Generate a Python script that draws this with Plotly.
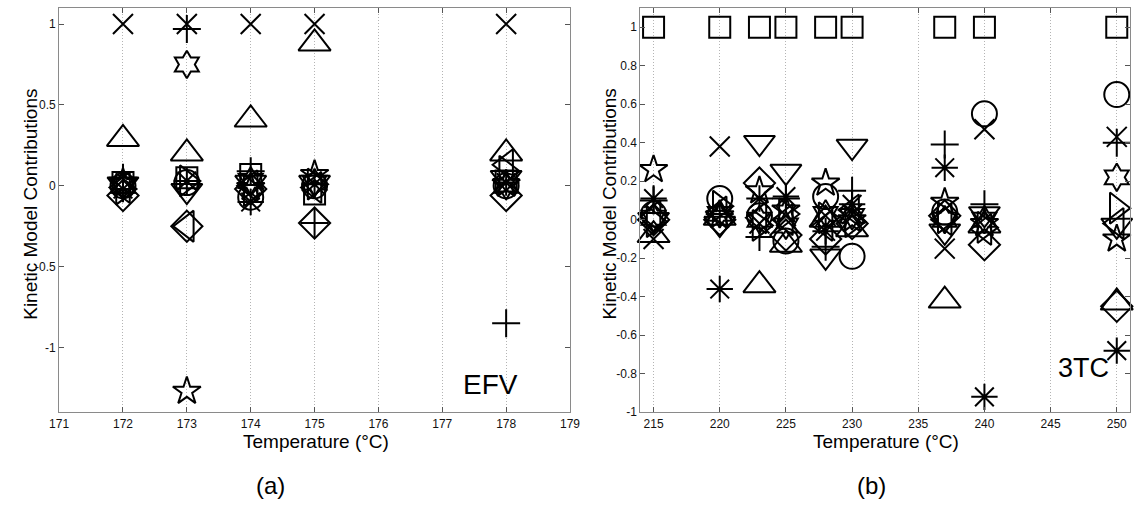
import plotly.graph_objects as go

# ---------------- data ----------------
temps_efv = [172, 173, 174, 175, 178]
efv_circle    = [0.00, 0.02, -0.07, 0.00, 0.00]
efv_x         = [1.00, 1.00, 1.00, 1.00, 1.00]
efv_cross     = [0.05, 0.97, 0.09, -0.23, -0.85]
efv_asterisk  = [-0.02, 0.03, -0.10, 0.01, 0.02]
efv_square    = [0.02, 0.05, 0.07, -0.05, 0.03]
efv_diamond   = [-0.06, -0.25, -0.02, -0.23, -0.06]
efv_tri_down  = [0.01, -0.03, 0.02, 0.02, 0.05]
efv_tri_up    = [0.29, 0.20, 0.41, 0.88, 0.20]
efv_tri_left  = [-0.01, -0.25, 0.00, -0.01, 0.13]
efv_tri_right = [-0.02, 0.03, -0.03, 0.01, 0.09]
efv_star      = [0.02, -1.27, -0.01, 0.07, 0.01]
efv_hexagram  = [0.00, 0.75, 0.03, 0.02, 0.00]

temps_3tc = [215, 220, 223, 225, 228, 230, 237, 240, 250]
tc_circle    = [0.03, 0.11, 0.02, -0.11, 0.12, -0.19, 0.04, 0.55, 0.65]
tc_x         = [-0.10, 0.38, -0.02, 0.02, 0.02, 0.03, -0.15, 0.47, 0.43]
tc_cross     = [0.10, 0.03, -0.09, 0.11, -0.14, 0.15, 0.39, 0.08, 0.40]
tc_asterisk  = [0.11, -0.36, 0.11, 0.12, -0.06, 0.08, 0.27, -0.92, -0.68]
tc_square    = [1.00, 1.00, 1.00, 1.00, 1.00, 1.00, 1.00, 1.00, 1.00]
tc_diamond   = [0.00, 0.00, 0.19, -0.08, -0.10, -0.02, 0.02, -0.13, -0.45]
tc_tri_down  = [0.00, -0.02, 0.40, 0.25, -0.19, 0.38, -0.06, 0.03, -0.03]
tc_tri_up    = [-0.08, 0.01, -0.34, -0.13, 0.00, -0.05, -0.42, -0.03, -0.43]
tc_tri_left  = [0.02, 0.04, 0.01, 0.00, -0.03, 0.05, 0.00, -0.05, -0.02]
tc_tri_right = [-0.01, 0.07, -0.03, 0.03, 0.01, -0.01, 0.01, -0.04, 0.06]
tc_star      = [0.26, 0.02, 0.15, 0.05, 0.19, 0.00, 0.09, -0.02, -0.10]
tc_hexagram  = [0.01, 0.03, 0.00, -0.03, 0.03, 0.02, 0.00, 0.00, 0.22]

efv_xticks = [171, 172, 173, 174, 175, 176, 177, 178, 179]
efv_yticks = [-1, -0.5, 0, 0.5, 1]
efv_yticklabels = ["-1", "-0.5", "0", "0.5", "1"]
tc_xticks = [215, 220, 225, 230, 235, 240, 245, 250]
tc_yticks = [-1, -0.8, -0.6, -0.4, -0.2, 0, 0.2, 0.4, 0.6, 0.8, 1]
tc_yticklabels = ["-1", "-0.8", "-0.6", "-0.4", "-0.2", "0", "0.2", "0.4", "0.6", "0.8", "1"]

# ---------------- styles ----------------
W, H = 1140, 510
markers = [
    ("circle-open", 25),
    ("x-thin-open", 20),
    ("cross-thin-open", 20),
    ("asterisk-open", 22),
    ("square-open", 21),
    ("diamond-open", 24),
    ("triangle-down-open", 27),
    ("triangle-up-open", 28),
    ("triangle-left-open", 27),
    ("triangle-right-open", 27),
    ("star-open", 21),
    ("hexagram-open", 21),
]
efv_series = [efv_circle, efv_x, efv_cross, efv_asterisk, efv_square, efv_diamond,
              efv_tri_down, efv_tri_up, efv_tri_left, efv_tri_right, efv_star, efv_hexagram]
tc_series = [tc_circle, tc_x, tc_cross, tc_asterisk, tc_square, tc_diamond,
             tc_tri_down, tc_tri_up, tc_tri_left, tc_tri_right, tc_star, tc_hexagram]

fig = go.Figure()
for (sym, size), vals in zip(markers, efv_series):
    fig.add_trace(go.Scatter(x=temps_efv, y=vals, mode="markers", xaxis="x", yaxis="y",
                             cliponaxis=False, showlegend=False, hoverinfo="skip",
                             marker=dict(symbol=sym, size=size, color="black",
                                         line=dict(color="black", width=2))))
for (sym, size), vals in zip(markers, tc_series):
    fig.add_trace(go.Scatter(x=temps_3tc, y=vals, mode="markers", xaxis="x2", yaxis="y2",
                             cliponaxis=False, showlegend=False, hoverinfo="skip",
                             marker=dict(symbol=sym, size=size, color="black",
                                         line=dict(color="black", width=2))))

def px(x):
    return x / W

def py(y):
    return 1 - y / H

ydom = [py(418), py(8)]
font = "Liberation Sans, Arial, sans-serif"
common_x = dict(showline=True, linecolor="#8a8a8a", linewidth=1, mirror="ticks",
                ticks="inside", ticklen=5, tickcolor="#555", showgrid=True,
                gridcolor="#b4b4b4", griddash="1px,2px", gridwidth=1, zeroline=False,
                tickfont=dict(family=font, size=12, color="#111"))
common_y = dict(showline=True, linecolor="#8a8a8a", linewidth=1, mirror="ticks",
                ticks="inside", ticklen=5, tickcolor="#555", showgrid=False,
                zeroline=False, tickfont=dict(family=font, size=12, color="#111"))

fig.update_layout(
    width=W, height=H, margin=dict(l=0, r=0, t=0, b=0),
    paper_bgcolor="white", plot_bgcolor="white",
    xaxis=dict(domain=[px(50), px(570)], range=[171, 179], tickvals=efv_xticks,
               anchor="y", **common_x),
    yaxis=dict(domain=ydom, range=[-1.4, 1.1], tickvals=efv_yticks,
               ticktext=efv_yticklabels, anchor="x", **common_y),
    xaxis2=dict(domain=[px(641.6), 1.0], range=[214, 251], tickvals=tc_xticks,
                anchor="y2", **common_x),
    yaxis2=dict(domain=ydom, range=[-1, 1.1], tickvals=tc_yticks,
                ticktext=tc_yticklabels, anchor="x2", **common_y),
)

ann = [
    dict(text="Temperature (°C)", x=px(311), y=py(448), size=19, angle=0),
    dict(text="Temperature (°C)", x=px(892), y=py(448), size=19, angle=0),
    dict(text="Kinetic Model Contributions", x=px(21), y=py(207), size=19, angle=-90),
    dict(text="Kinetic Model Contributions", x=px(610), y=py(207), size=19, angle=-90),
    dict(text="(a)", x=px(265), y=py(492), size=24, angle=0),
    dict(text="(b)", x=px(877), y=py(492), size=24, angle=0),
    dict(text="EFV", x=px(489), y=py(390), size=28, angle=0),
    dict(text="3TC", x=px(1093), y=py(373), size=27, angle=0),
]
for a in ann:
    fig.add_annotation(text=a["text"], x=a["x"], y=a["y"], xref="paper", yref="paper",
                       xanchor="center", yanchor="middle", showarrow=False,
                       textangle=a["angle"],
                       font=dict(family=font, size=a["size"], color="black"))

fig.write_html("out.html", config={"displayModeBar": False, "staticPlot": True},
               post_script="document.body.style.margin='0px';document.body.style.overflow='hidden';")
